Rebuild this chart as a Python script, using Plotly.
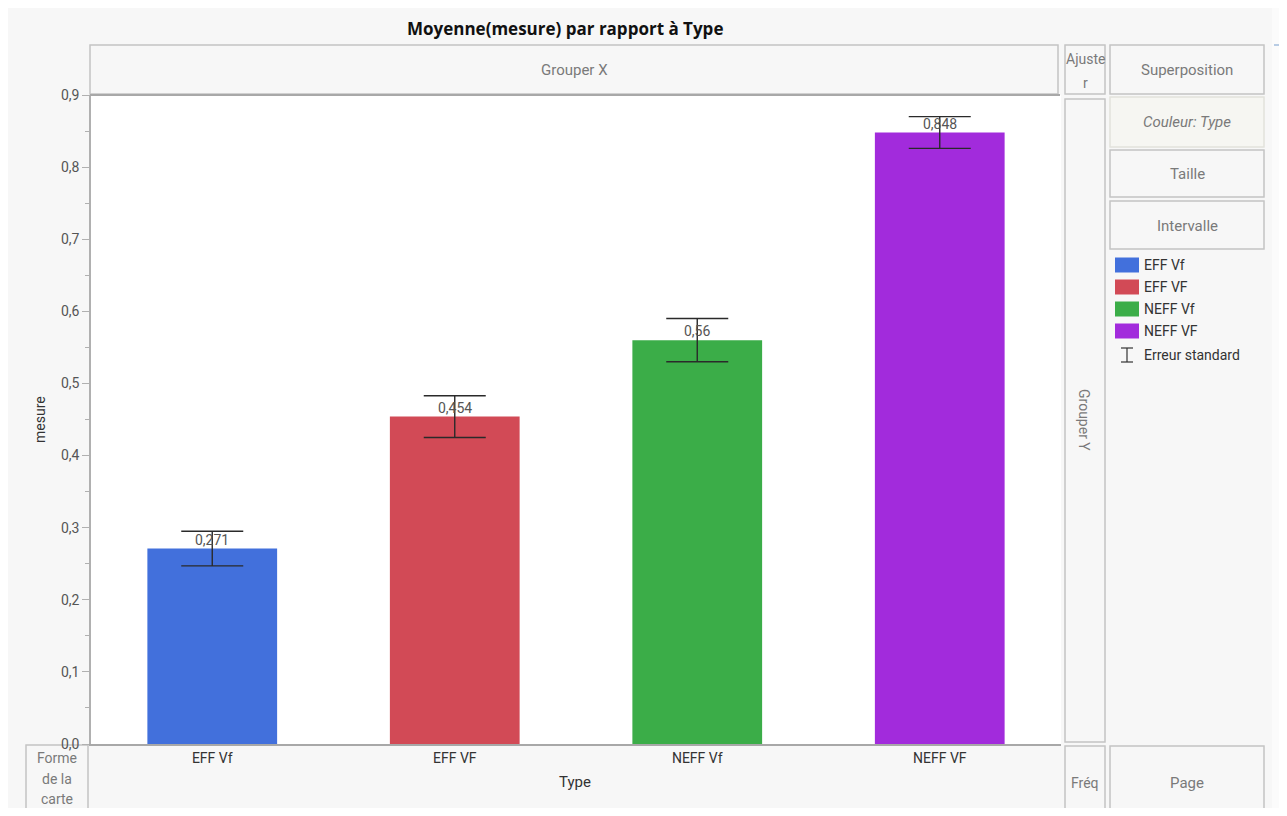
import plotly.graph_objects as go

# ---- data ----
categories = ["EFF Vf", "EFF VF", "NEFF Vf", "NEFF VF"]
means = [0.271, 0.454, 0.56, 0.848]
std_errors = [0.024, 0.029, 0.030, 0.022]
value_labels = ["0,271", "0,454", "0,56", "0,848"]
bar_colors = ["#4270DC", "#D24A56", "#3BAD48", "#A22BDC"]
y_tickvals = [0, 0.1, 0.2, 0.3, 0.4, 0.5, 0.6, 0.7, 0.8, 0.9]

# figure sized to fit inside the page's 8px body margin
OFF = 8
W, H = 1271, 800
FONT = "Liberation Sans Narrow, Roboto, Liberation Sans, sans-serif"
TITLE_FONT = "Open Sans, Liberation Sans, sans-serif"


def fx(px):
    return (px - OFF) / W


def fy(py):
    return 1 - (py - OFF) / H


fig = go.Figure()
fig.add_trace(go.Bar(
    x=categories, y=means,
    marker=dict(color=bar_colors, line=dict(width=0)),
    width=0.535,
    error_y=dict(type="data", array=std_errors, visible=True,
                 color="#2a2a2a", thickness=1.4, width=31),
    showlegend=False, hoverinfo="x+y",
))

annotations = []
for c, m, lab in zip(categories, means, value_labels):
    annotations.append(dict(x=c, y=m, xref="x", yref="y", text=lab,
                            showarrow=False, xanchor="center", yanchor="bottom",
                            yshift=-1,
                            font=dict(family=FONT, size=14, color="#555")))

shapes = []


def text(px, py, t, size=14, color="#7a7a7a", angle=0, xanchor="center",
         family=FONT):
    annotations.append(dict(x=fx(px), y=fy(py), xref="paper", yref="paper",
                            text=t, showarrow=False, textangle=angle,
                            xanchor=xanchor, yanchor="middle",
                            font=dict(family=family, size=size, color=color)))


def rect(x0, y0, x1, y1, fill="#f7f7f7", line="#c4c4c4", lw=1.5, layer="above"):
    shapes.append(dict(type="rect", xref="paper", yref="paper",
                       x0=fx(x0), x1=fx(x1), y0=fy(y1), y1=fy(y0),
                       fillcolor=fill, line=dict(color=line, width=lw),
                       layer=layer))


# right-edge strip and small blue mark
shapes.append(dict(type="rect", xref="paper", yref="paper", x0=fx(1272), x1=1,
                   y0=0, y1=1, fillcolor="#fbfbfb", line=dict(width=0),
                   layer="below"))
shapes.append(dict(type="line", xref="paper", yref="paper", x0=fx(1274), x1=1,
                   y0=fy(45), y1=fy(45), line=dict(color="#b8cce4", width=2)))

# drop zones
rect(90, 45, 1058, 94)
text(574, 70, "Grouper X", size=15)
rect(1065, 45, 1105, 94)
text(1085, 59, "Ajuste", size=14)
text(1085, 83, "r", size=14)
rect(1110, 45, 1264, 94)
text(1187, 70, "Superposition", size=15)
rect(1110, 97, 1264, 147, fill="#f6f6f2", line="#e2e2dc")
text(1187, 122, "<i>Couleur: Type</i>", size=15)
rect(1110, 150, 1264, 197)
text(1187, 174, "Taille", size=15)
rect(1110, 201, 1264, 249)
text(1187, 226, "Intervalle", size=15)
rect(1065, 99, 1105, 742)
text(1084, 420, "Grouper Y", size=14, angle=90)
rect(26, 745, 88, 830, layer="below")
text(57, 758, "Forme", size=14)
text(57, 779, "de la", size=14)
text(57, 799, "carte", size=14)
rect(1065, 746, 1105, 830)
text(1085, 783, "Fréq", size=14)
rect(1110, 746, 1264, 830)
text(1187, 783, "Page", size=15)

# plot frame top line
shapes.append(dict(type="line", xref="paper", yref="paper", x0=fx(90), x1=fx(1060),
                   y0=fy(95), y1=fy(95), line=dict(color="#a8a8a8", width=2)))

# legend
legend_y = [265, 287, 309, 331]
for c, col, ly in zip(categories, bar_colors, legend_y):
    rect(1115, ly - 7.5, 1139, ly + 7.5, fill=col, line=col, lw=0)
    text(1142, ly, c, size=14, color="#333", xanchor="left")
# error bar legend icon
ey = 355
for (x0, y0), (x1, y1) in [((1127, ey - 7), (1127, ey + 7)),
                           ((1121, ey - 7), (1133, ey - 7)),
                           ((1121, ey + 7), (1133, ey + 7))]:
    shapes.append(dict(type="line", xref="paper", yref="paper",
                       x0=fx(x0), y0=fy(y0), x1=fx(x1), y1=fy(y1),
                       line=dict(color="#333", width=1.2)))
text(1142, ey, "Erreur standard", size=14, color="#333", xanchor="left")

# title and axis titles
text(565, 28, "<b>Moyenne(mesure) par rapport à Type</b>", size=17, color="#111",
     family=TITLE_FONT)
text(40, 420, "mesure", size=14, color="#333", angle=-90)
text(575, 782, "Type", size=15, color="#333")

fig.update_layout(
    width=W, height=H, autosize=False, margin=dict(l=0, r=0, t=0, b=0, pad=0),
    paper_bgcolor="#f7f7f7", plot_bgcolor="white",
    separators=", ",
    xaxis=dict(domain=[fx(91), fx(1061)], range=[-0.5, 3.5],
               showgrid=False, zeroline=False, showline=True,
               linecolor="#a8a8a8", linewidth=2, ticks="", automargin=False,
               tickfont=dict(family=FONT, size=14, color="#333"),
               fixedrange=True),
    yaxis=dict(domain=[fy(744), fy(95)], range=[0, 0.9],
               tickvals=y_tickvals, tickformat=".1f", automargin=False,
               showgrid=False, zeroline=False, showline=True,
               linecolor="#b0b0b0", linewidth=1.5,
               ticks="outside", ticklen=7, tickcolor="#b0b0b0", tickwidth=1,
               minor=dict(dtick=0.05, ticks="outside", ticklen=4,
                          tickcolor="#b0b0b0"),
               tickfont=dict(family=FONT, size=14, color="#555"),
               fixedrange=True),
    shapes=shapes, annotations=annotations,
)

fig.write_html("out.html")
